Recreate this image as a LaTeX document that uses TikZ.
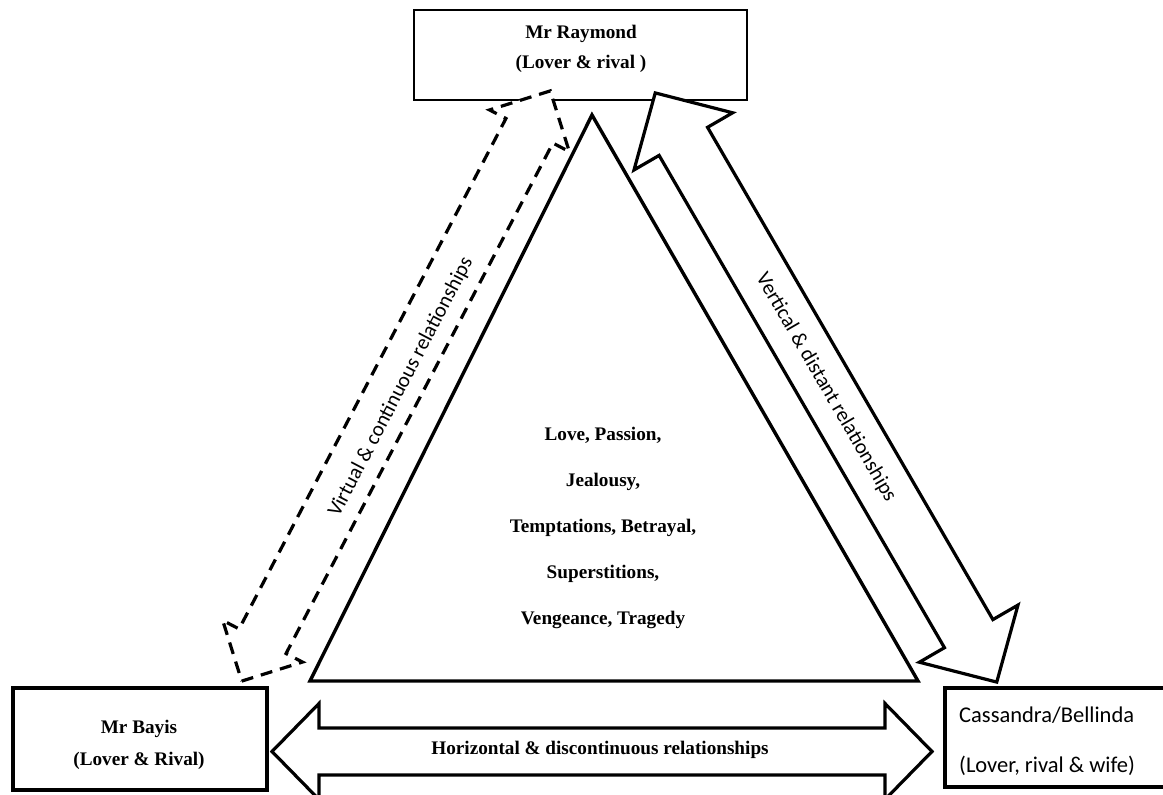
\documentclass[tikz,border=0pt]{standalone}
\usepackage{fontspec}
\setmainfont{Liberation Serif}
\newfontfamily\calibri{Carlito}
% double block arrow along x: length, shaft half width, head half width, head length
\newcommand*\dblarrow[4]{(-#1/2,0) -- ({-#1/2+#4},#3) -- ({-#1/2+#4},#2) -- ({#1/2-#4},#2) -- ({#1/2-#4},#3) -- (#1/2,0) -- ({#1/2-#4},-#3) -- ({#1/2-#4},-#2) -- ({-#1/2+#4},-#2) -- ({-#1/2+#4},-#3) -- cycle}
\tikzset{
  thinbox/.style={draw, line width=1.4pt, inner sep=0pt},
  thickbox/.style={draw, line width=3.5pt, inner sep=0pt},
  blockarrow/.style={draw, line width=3.2pt, line join=miter, fill=white},
  dasharrow/.style={blockarrow, dash pattern=on 12pt off 8pt},
  boldtext/.style={font=\bfseries\fontsize{19.2}{30}\selectfont, align=center, inner sep=0pt},
  sanstext/.style={font=\calibri\fontsize{21}{24}\selectfont, inner sep=0pt},
}
\begin{document}
\begin{tikzpicture}[x=1pt,y=-1pt]
    \useasboundingbox (0,0) rectangle (1163,795);

    % the three persons
    \node[thinbox, minimum width=333pt, minimum height=90pt] (raymond) at (580.5,55) {};
    \node[boldtext] (raymondtxt) at (581,49) {Mr Raymond\\(Lover \& rival )};
    \node[thickbox, minimum width=254pt, minimum height=102pt] (bayis) at (140,739) {};
    \node[boldtext, font=\bfseries\fontsize{19.2}{32}\selectfont] (bayistxt) at (139,745) {Mr Bayis\\(Lover \& Rival)};
    \node[thickbox, minimum width=230pt, minimum height=99pt] (cassandra) at (1060,737.5) {};
    \node[sanstext, align=left, anchor=west, font=\calibri\fontsize{22.5}{50}\selectfont] (cassandratxt) at (959,741) {Cassandra/Bellinda\\(Lover, rival \& wife)};

    % triangle of themes
    \draw[line width=3.4pt, line join=miter] (310,681) -- (592,115) -- (918,681) -- cycle;
    \node[boldtext, font=\bfseries\fontsize{19.2}{46.2}\selectfont] (themes) at (603,528)
        {Love, Passion,\\Jealousy,\\Temptations, Betrayal,\\Superstitions,\\Vengeance, Tragedy};

    % relationships
    \begin{scope}[shift={(826,387.5)}, rotate=-59.9]
      \draw[blockarrow] \dblarrow{681}{28}{57}{56};
    \end{scope}
    \node[sanstext, rotate=-59.9] (vert) at (826,387.5) {Vertical \& distant relationships};

    \begin{scope}[shift={(396,386)}, rotate=62.4]
      \draw[dasharrow] \dblarrow{666}{26.5}{45}{45};
    \end{scope}
    \node[sanstext, rotate=62.4] (virt) at (401,387) {Virtual \& continuous relationships};

    \begin{scope}[shift={(602,751.5)}]
      \draw[blockarrow] \dblarrow{660}{23.5}{48}{47};
    \end{scope}
    \node[boldtext] (horiz) at (600,750) {Horizontal \& discontinuous relationships};
\end{tikzpicture}
\end{document}
